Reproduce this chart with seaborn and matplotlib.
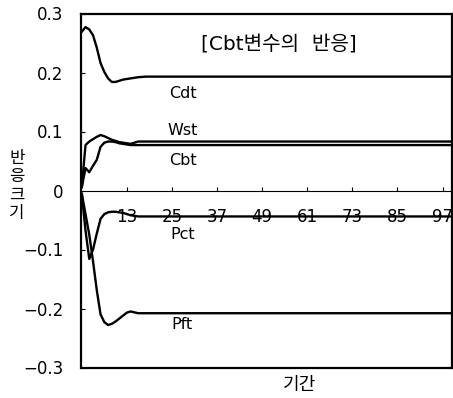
import matplotlib
matplotlib.use("Agg")
import matplotlib.pyplot as plt
import seaborn as sns
import pandas as pd

# Impulse responses to a Cbt shock, by period
periods = [1, 2, 3, 4, 5, 6, 7, 8, 9, 10, 11, 12, 13, 14, 16, 18, 100]
cdt = [0.269, 0.277, 0.273, 0.263, 0.242, 0.216, 0.201, 0.190, 0.184, 0.184,
       0.186, 0.188, 0.189, 0.190, 0.192, 0.193, 0.193]
wst = [0.005, 0.077, 0.083, 0.087, 0.091, 0.094, 0.092, 0.089, 0.086, 0.084,
       0.082, 0.081, 0.080, 0.079, 0.083, 0.083, 0.083]
cbt = [0.005, 0.038, 0.031, 0.042, 0.052, 0.074, 0.081, 0.083, 0.083, 0.082,
       0.080, 0.079, 0.078, 0.077, 0.077, 0.077, 0.077]
pct = [-0.005, -0.068, -0.116, -0.100, -0.073, -0.048, -0.040, -0.037, -0.036,
       -0.036, -0.037, -0.038, -0.040, -0.042, -0.044, -0.044, -0.044]
pft = [-0.005, -0.040, -0.075, -0.120, -0.169, -0.210, -0.223, -0.228, -0.226,
       -0.222, -0.217, -0.212, -0.207, -0.205, -0.208, -0.208, -0.208]

series_names = ["Cdt", "Wst", "Cbt", "Pct", "Pft"]
label_y = [0.165, 0.102, 0.051, -0.075, -0.227]
x_ticks = [13, 25, 37, 49, 61, 73, 85, 97]
y_ticks = [-0.3, -0.2, -0.1, 0, 0.1, 0.2, 0.3]
y_ticklabels = ["\u22120.3", "\u22120.2", "\u22120.1", "0", "0.1", "0.2", "0.3"]
y_title = "반응크기"

sns.set_style("white")
plt.rcParams["font.family"] = ["DejaVu Sans", "Noto Sans CJK KR"]
plt.rcParams["text.color"] = "black"
plt.rcParams["xtick.color"] = "black"
plt.rcParams["ytick.color"] = "black"
plt.rcParams["axes.edgecolor"] = "black"

df = pd.DataFrame({"period": periods, "Cdt": cdt, "Wst": wst, "Cbt": cbt,
                   "Pct": pct, "Pft": pft})

fig = plt.figure(figsize=(4.53, 3.98), dpi=100)
ax = fig.add_axes([81 / 453, 1 - 367.5 / 398, (452 - 81) / 453, (367.5 - 13.5) / 398])

for name in series_names:
    sns.lineplot(data=df, x="period", y=name, color="black", linewidth=1.7,
                 ax=ax, legend=False)

ax.set_xlim(0.8, 99.5)
ax.set_ylim(-0.3, 0.3)

# x axis crosses at zero; frame drawn around the plot area
ax.spines["bottom"].set_position(("data", 0))
ax.spines["bottom"].set_linewidth(0.8)
for side in ["left", "top", "right"]:
    ax.spines[side].set_linewidth(1.6)
    ax.spines[side].set_color("black")
ax.plot([0, 1], [0, 0], transform=ax.transAxes, color="black", lw=1.6,
        clip_on=False)

ax.set_xticks(x_ticks)
ax.set_xticklabels([str(t) for t in x_ticks])
ax.set_yticks(y_ticks)
ax.set_yticklabels(y_ticklabels)
ax.tick_params(axis="x", direction="in", length=3, width=0.8, pad=12.5,
               labelsize=12, bottom=True, colors="black")
ax.tick_params(axis="y", direction="in", length=3, width=0.8, pad=12.5,
               labelsize=12, left=True, colors="black")

ax.set_xlabel("")
ax.set_ylabel("")

for name, yv in zip(series_names, label_y):
    ax.text(27.8, yv, name, ha="center", va="center", fontsize=11.5,
            color="black")

ax.text(53.5, 0.248, "[Cbt변수의  반응]", ha="center", va="center",
        fontsize=14.5, color="black")

fig.text(300 / 453, 1 - 385 / 398, "기간", ha="center", va="center",
         fontsize=13, color="black")
# vertical axis title, stacked one character at a time
for i, ch in enumerate(y_title):
    fig.text(17 / 453, 1 - (159 + 18 * i) / 398, ch, ha="center", va="center",
             fontsize=12, color="black", family=["Noto Sans CJK KR"])

fig.savefig("out.png", dpi=100)
